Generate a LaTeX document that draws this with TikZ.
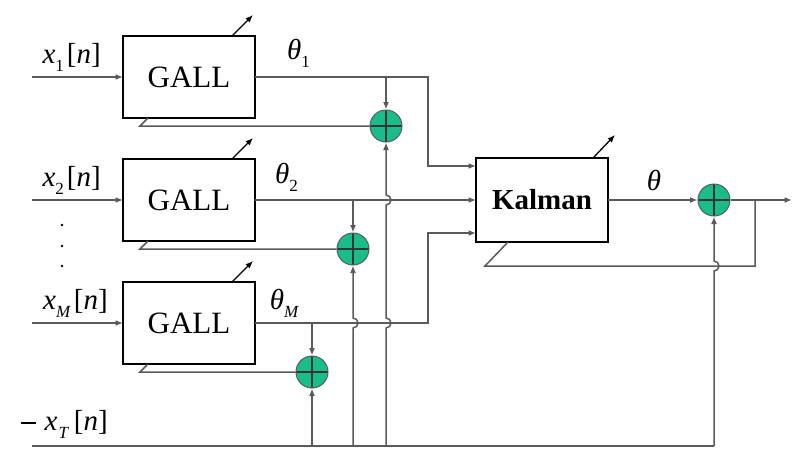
\documentclass[tikz,border=0pt]{standalone}
\usepackage{fontspec}
\setmainfont{Liberation Serif}
\usetikzlibrary{calc, arrows, arrows.meta, positioning}
\definecolor{sumgreen}{RGB}{26,188,138}
\definecolor{wiregray}{RGB}{90,90,90}
\newcommand{\subsc}[1]{\raisebox{-0.28em}{\fontsize{17}{17}\selectfont #1}\kern3pt}
\tikzset{
    gallnode/.style = {draw, rectangle, line width=2.6pt, outer sep=0pt, minimum width=132pt, minimum height=82pt,
      inner sep=0pt, font=\fontsize{31}{34}\selectfont},
    kalmannode/.style = {gallnode, minimum height=84pt, font=\fontsize{29}{34}\selectfont\bfseries},
    sumnode/.style = {circle, draw=wiregray, line width=1pt, fill=sumgreen, minimum size=32pt, inner sep=0pt,
      path picture={\draw[wiregray!60!black, line width=1.2pt]
        (path picture bounding box.north) -- (path picture bounding box.south)
        (path picture bounding box.west) -- (path picture bounding box.east);}},
    textnode/.style = {draw=none, fill=none, inner sep=0pt, font=\fontsize{29}{32}\selectfont},
    dotnode/.style = {fill=black, circle, minimum size=2.6pt, inner sep=0pt},
    wire/.style = {wiregray, line width=1.5pt},
    connect/.style = {wire, ->},
    tune/.style = {black, line width=1.3pt, ->}
}

\begin{document}
\begin{tikzpicture}[x=1pt, y=-1pt, >={Latex[length=7.5pt,width=6pt]}]
\useasboundingbox (0,0) rectangle (800,458);

% filters
\node[gallnode] (gallA) at (189,77) {GALL};
\node[gallnode] (gallB) at (189,200) {GALL};
\node[gallnode] (gallM) at (189,323) {GALL};
\node[kalmannode] (kalman) at (542,200) {Kalman};

% adders
\node[sumnode] (sumA) at (386,126) {};
\node[sumnode] (sumB) at (353,249) {};
\node[sumnode] (sumM) at (312,372) {};
\node[sumnode] (sumO) at (714,200) {};

\coordinate (inA) at (32,77);
\coordinate (inB) at (32,200);
\coordinate (inM) at (32,323);
\coordinate (inT) at (32,446);
\coordinate (out) at (792,200);
\coordinate (turnA) at (428,77);
\coordinate (turnM) at (428,323);
\coordinate (tapO) at (755,200);
\coordinate (kfb) at ($(kalman.south west)+(9,24)$);

% labels
\node[textnode, anchor=south east] (lxA) at ($(inA)+(69,-5)$) {\textit{x}\subsc{1}[\textit{n}]};
\node[textnode, anchor=south east] (lxB) at ($(inB)+(69,-5)$) {\textit{x}\subsc{2}[\textit{n}]};
\node[textnode, anchor=south east] (lxM) at ($(inM)+(76,-5)$) {\textit{x}\subsc{\textit{M}}[\textit{n}]};
\node[textnode, anchor=south east] (lxT) at ($(inT)+(76,-7)$)
  {\rule[0.24em]{15pt}{1.3pt}\hspace{9pt}\textit{x}\kern1pt\subsc{\textit{T}}\kern2pt[\textit{n}]};
\node[textnode] (thA) at ($(gallA.east)+(45,-24)$) {\textit{θ}\subsc{1}};
\node[textnode] (thB) at ($(gallB.east)+(33,-23)$) {\textit{θ}\subsc{2}};
\node[textnode] (thM) at ($(gallM.east)+(31,-20)$) {\textit{θ}\subsc{\textit{M}}};
\node[textnode] (th) at ($(kalman.east)+(46,-20)$) {\textit{θ}};
\foreach \y [count=\i] in {225,246,266}
  \node[dotnode] (dot\i) at (62,\y) {};

% inputs and outputs of the filters
\draw[connect] (inA) -- (gallA.west);
\draw[connect] (inB) -- (gallB.west);
\draw[connect] (inM) -- (gallM.west);
\draw[connect] (gallA.east) -- (turnA) |- ($(kalman.west)+(0,-34)$);
\draw[connect] (gallB.east) -- (kalman.west);
\draw[connect] (gallM.east) -- (turnM) |- ($(kalman.west)+(0,33)$);
\draw[connect] (sumA |- gallA.east) -- (sumA.north);
\draw[connect] (sumB |- gallB.east) -- (sumB.north);
\draw[connect] (sumM |- gallM.east) -- (sumM.north);

% error feedback
\draw[wire] (sumA.west) -- ($(gallA.south west)+(17,8)$) -- ++(8,-8);
\draw[wire] (sumB.west) -- ($(gallB.south west)+(17,8)$) -- ++(8,-8);
\draw[wire] (sumM.west) -- ($(gallM.south west)+(17,8)$) -- ++(8,-8);
\draw[tune] ($(gallA.north east)+(-23,0)$) -- ++(21,-21);
\draw[tune] ($(gallB.north east)+(-23,0)$) -- ++(21,-21);
\draw[tune] ($(gallM.north east)+(-23,0)$) -- ++(21,-21);

% Kalman output
\draw[connect] (kalman.east) -- (sumO.west);
\draw[connect] (sumO.east) -- (out);
\draw[wire] (tapO) |- (kfb) -- ++(23,-24);
\draw[tune] ($(kalman.north east)+(-15,0)$) -- ++(22,-23);

% reference signal
\draw[wire] (inT) -- (inT -| sumO);
\draw[connect] (inT -| sumM) -- (sumM.south);
\draw[connect] (inT -| sumB) -- ($(sumB |- turnM)+(0,5)$) arc[start angle=-90, end angle=90, radius=5pt]
  -- (sumB.south);
\draw[connect] (inT -| sumA) -- ($(sumA |- turnM)+(0,5)$) arc[start angle=-90, end angle=90, radius=5pt]
  -- ($(sumA |- gallB.east)+(0,5)$) arc[start angle=-90, end angle=90, radius=5pt] -- (sumA.south);
\draw[connect] (inT -| sumO) -- ($(sumO |- kfb)+(0,5)$) arc[start angle=-90, end angle=90, radius=5pt]
  -- (sumO.south);
\end{tikzpicture}
\end{document}
